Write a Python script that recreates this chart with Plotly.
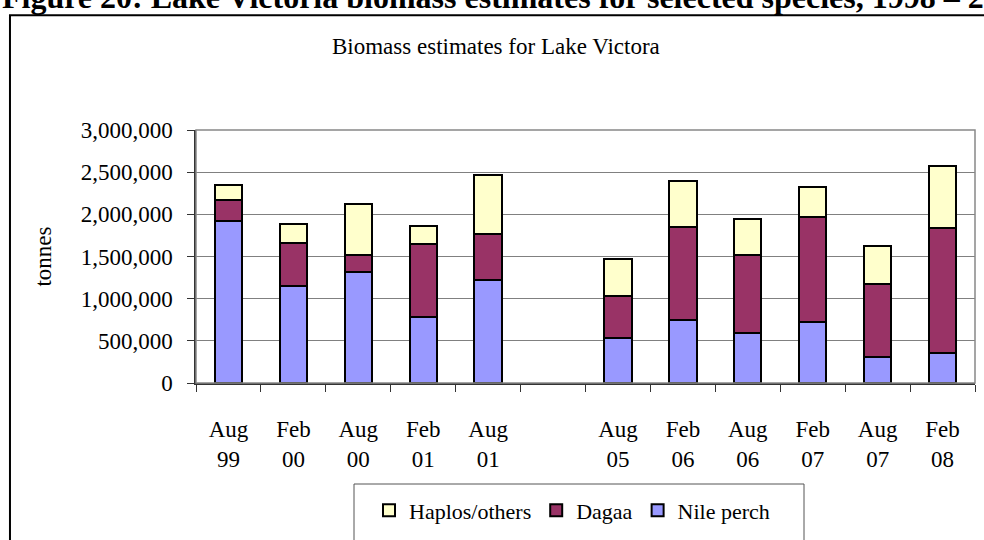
import plotly.graph_objects as go

periods = ["Aug<br>99", "Feb<br>00", "Aug<br>00", "Feb<br>01", "Aug<br>01", " ",
           "Aug<br>05", "Feb<br>06", "Aug<br>06", "Feb<br>07", "Aug<br>07", "Feb<br>08"]
nile_perch = [1923000, 1146000, 1317000, 777000, 1216000, None,
              536000, 746000, 594000, 719000, 307000, 361000]
dagaa = [249000, 513000, 198000, 874000, 548000, None,
         497000, 1103000, 925000, 1247000, 862000, 1480000]
haplos = [178000, 225000, 610000, 210000, 707000, None,
          439000, 552000, 431000, 353000, 459000, 731000]
y_ticks = [0, 500000, 1000000, 1500000, 2000000, 2500000, 3000000]

serif = "Liberation Serif, Times New Roman, serif"

fig = go.Figure()
fig.add_trace(go.Bar(x=periods, y=nile_perch, name="Nile perch",
                     marker=dict(color="#9999FF", line=dict(color="black", width=2))))
fig.add_trace(go.Bar(x=periods, y=dagaa, name="Dagaa",
                     marker=dict(color="#993366", line=dict(color="black", width=2))))
fig.add_trace(go.Bar(x=periods, y=haplos, name="Haplos/others",
                     marker=dict(color="#FFFFCC", line=dict(color="black", width=2))))

# outer frame of the chart object (cut by the page edges) and legend box
fig.add_shape(type="rect", xref="paper", yref="paper",
              x0=-0.2388, x1=1.03, y0=-0.65, y1=1.4535,
              line=dict(color="black", width=2), layer="below")
fig.add_shape(type="rect", xref="paper", yref="paper",
              x0=(354 - 196) / 779, x1=(804 - 196) / 779, y0=-0.67, y1=(388 - 491) / 258,
              line=dict(color="#555555", width=1))
# plot area border
fig.add_shape(type="rect", xref="paper", yref="paper", x0=0, x1=1, y0=0, y1=1,
              line=dict(color="#888888", width=1.5))

fig.add_annotation(text="<b>Figure 20: Lake Victoria biomass estimates for selected species, 1998 – 2008</b>",
                   xref="paper", yref="paper", x=-0.2516, y=(388 - 15) / 258,
                   xanchor="left", yanchor="bottom", showarrow=False,
                   font=dict(family=serif, size=32, color="black"))
fig.add_annotation(text="Biomass estimates for Lake Victora",
                   xref="paper", yref="paper", x=(496 - 196) / 779, y=(388 - 45) / 258,
                   xanchor="center", yanchor="middle", showarrow=False,
                   font=dict(family=serif, size=23, color="black"))

fig.update_layout(
    barmode="stack",
    bargap=0.58,
    width=984, height=540,
    margin=dict(l=196, r=9, t=130, b=152),
    paper_bgcolor="white", plot_bgcolor="white",
    font=dict(family=serif, size=23, color="black"),
    showlegend=True,
    legend=dict(orientation="h", traceorder="reversed",
                x=(572 - 196) / 779, xanchor="center",
                y=(388 - 518) / 258, yanchor="middle",
                font=dict(family=serif, size=22, color="black"),
                bgcolor="rgba(0,0,0,0)", itemwidth=30),
)
fig.update_xaxes(type="category", categoryorder="array", categoryarray=periods,
                 showline=True, linecolor="#333333", linewidth=1.5,
                 ticks="outside", tickson="boundaries", ticklen=7, tickcolor="#333333",
                 ticklabelstandoff=25, showgrid=False, automargin=False)
fig.update_yaxes(range=[0, 3000000], tickvals=y_ticks, tickformat=",d",
                 showline=True, linecolor="#333333", linewidth=1.5,
                 ticks="outside", ticklen=7, tickcolor="#333333", ticklabelstandoff=10,
                 showgrid=True, gridcolor="#808080", gridwidth=1,
                 zeroline=False, automargin=False,
                 title=dict(text="tonnes", standoff=23, font=dict(family=serif, size=23)))

# drop the default page margin so the figure sits at the window's corner
fig.write_html("out.html", config={"displayModeBar": False},
               post_script="document.body.style.margin='0';")
